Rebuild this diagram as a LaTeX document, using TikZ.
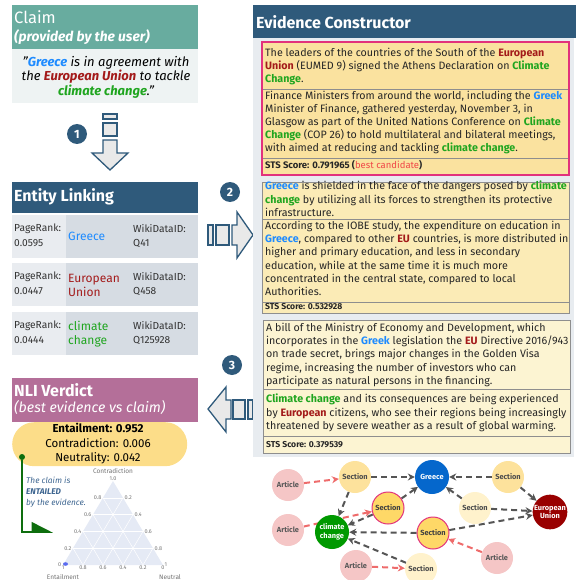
\documentclass[tikz,border=0pt]{standalone}
\usepackage{fontspec}
\setmainfont{Fira Sans}
\usetikzlibrary{arrows.meta,backgrounds,calc,positioning}

\definecolor{claimteal}{HTML}{68AC9F}
\definecolor{claimbg}{HTML}{EEF3F3}
\definecolor{navy}{HTML}{2F5A7B}
\definecolor{rowlight}{HTML}{E9ECF0}
\definecolor{rowdark}{HTML}{D6DCE3}
\definecolor{mauve}{HTML}{B46F99}
\definecolor{pill}{HTML}{FCDD89}
\definecolor{panelbg}{HTML}{E8ECF0}
\definecolor{bestfill}{HTML}{FAE29F}
\definecolor{midfill}{HTML}{FBEBB6}
\definecolor{lowfill}{HTML}{FCF4D2}
\definecolor{bestline}{HTML}{E2327C}
\definecolor{boxline}{HTML}{8E8E8E}
\definecolor{entblue}{HTML}{1E8BFF}
\definecolor{entred}{HTML}{A31A1A}
\definecolor{entgreen}{HTML}{1FA51F}
\definecolor{candred}{HTML}{F04848}
\definecolor{arrowgray}{HTML}{E9E9E9}
\definecolor{verdictgreen}{HTML}{0E6E0E}
\definecolor{notetext}{HTML}{3D6590}
\definecolor{ternfill}{HTML}{E5EAF5}
\definecolor{ternpt}{HTML}{5A6BF0}
\definecolor{kgblue}{HTML}{0567CC}
\definecolor{kgred}{HTML}{990000}
\definecolor{kggreen}{HTML}{009900}
\definecolor{kgart}{HTML}{F5C6C6}
\definecolor{kgsec}{HTML}{FDE29C}
\definecolor{kgsecb}{HTML}{FED867}
\definecolor{kgsecl}{HTML}{FFF2CC}
\definecolor{kgedge}{HTML}{555555}
\definecolor{kgcite}{HTML}{EE6B6B}

\newcommand{\fsz}[2]{\fontsize{#1}{#2}\selectfont}
\newcommand{\tgr}[1]{\textbf{\color{entblue}#1}}
\newcommand{\teu}[1]{\textbf{\color{entred}#1}}
\newcommand{\tcc}[1]{\textbf{\color{entgreen}#1}}

\tikzset{
  headtxt/.style={anchor=west, inner sep=0pt, text=white},
  rowtxt/.style={anchor=west, inner sep=0pt, text=black!80, font=\fsz{10.2}{11}},
  entname/.style={anchor=west, inner sep=0pt, align=left, font=\fsz{12}{14}},
  numdot/.style={circle, fill=navy, text=white, minimum size=20pt, inner sep=0pt, font=\bfseries\fsz{12}{12}},
  blockarrow/.style={draw=navy, fill=arrowgray, line width=1.3pt},
  evid/.style={anchor=north west, inner sep=0pt, align=left, text=black!85, font=\fsz{10.7}{13.2}},
  sts/.style={anchor=west, inner sep=0pt, text=black!85, font=\bfseries\fsz{8.6}{8.6}},
  tern/.style={inner sep=0.5pt, text=black!55, font=\fsz{5.5}{6}},
  kg/.style={circle, minimum size=32pt, inner sep=0pt, align=center, font=\bfseries\fsz{7.4}{8.5}},
  art/.style={kg, fill=kgart, text=black!65},
  sec/.style={kg, fill=kgsec, text=black!70},
  seclight/.style={kg, fill=kgsecl, text=black!70},
  secbest/.style={kg, fill=kgsecb, draw=bestline, line width=1pt, text=black!75},
  ent/.style={kg, minimum size=34pt, text=white},
  link/.style={draw=kgedge, line width=2pt, dash pattern=on 6pt off 4pt, -{Stealth[length=7pt,width=7pt]}},
  cite/.style={link, draw=kgcite},
}

\begin{document}
\begin{tikzpicture}[x=1pt,y=-1pt]
\useasboundingbox (0,0) rectangle (576,580);

% claim
\fill[claimteal] (12,5) rectangle (198,49);
\node[headtxt, font=\fsz{16.5}{16.5}] (claimtitle) at (14,17) {Claim};
\node[headtxt, font=\bfseries\itshape\fsz{13.8}{13.8}] (claimsub) at (14,37) {(provided by the user)};
\fill[claimbg] (12,49) rectangle (198,103);
\node[inner sep=0pt, align=center, font=\itshape\fsz{13}{14.5}] (claimtext) at (106,77)
  {"\tgr{Greece} is in agreement with\\the \teu{European Union} to tackle\\\tcc{climate change}."};

% step 1
\draw[blockarrow] (103,114) rectangle (117,119);
\draw[blockarrow] (103,123) rectangle (117,136);
\draw[blockarrow] (103,140) -- (117,140) -- (117,153) -- (128,153) -- (110,170) -- (92,153) -- (103,153) -- cycle;
\node[numdot] (one) at (77,134) {1};

% entity linking
\fill[navy] (12,182) rectangle (198,213);
\node[headtxt, font=\bfseries\fsz{16}{16}] (eltitle) at (14,197) {Entity Linking};
\foreach \ytop/\pr/\qid [count=\i] in {215/0.0595/Q41, 263/0.0447/Q458, 312/0.0444/Q125928}{
  \fill[rowlight] (12,\ytop) rectangle +(54,43);
  \fill[rowdark] (66,\ytop) rectangle +(132,43);
  \node[rowtxt] (pr\i) at (14,\ytop+14) {PageRank:};
  \node[rowtxt] (prv\i) at (14,\ytop+28) {\pr};
  \node[rowtxt] (wd\i) at (133,\ytop+14) {WikiDataID:};
  \node[rowtxt] (wdv\i) at (133,\ytop+28) {\qid};
}
\node[entname, text=entblue] (ent1) at (68,236) {Greece};
\node[entname, text=entred] (ent2) at (68,285) {European\\Union};
\node[entname, text=entgreen] (ent3) at (68,334) {climate\\change};

% step 2
\draw[blockarrow] (208,225) rectangle (213,245);
\draw[blockarrow] (216,225) rectangle (229,245);
\draw[blockarrow] (232,225) -- (237,225) -- (237,212) -- (253,235) -- (237,258) -- (237,245) -- (232,245) -- cycle;
\node[numdot] (two) at (230,192) {2};

% step 3
\draw[blockarrow] (248,400) rectangle (253,419);
\draw[blockarrow] (233,400) rectangle (245,419);
\draw[blockarrow] (231,400) -- (226,400) -- (226,387) -- (208,409) -- (226,432) -- (226,419) -- (231,419) -- cycle;
\node[numdot] (three) at (232,365) {3};

% nli verdict
\fill[mauve] (12,378) rectangle (198,422);
\node[headtxt, font=\bfseries\fsz{16}{16}] (nlititle) at (14,390) {NLI Verdict};
\node[headtxt, font=\itshape\fsz{14.2}{14.2}] (nlisub) at (14,408) {(best evidence vs claim)};
\node[fill=pill, rounded corners=22pt, minimum width=175pt, minimum height=44pt, anchor=north west] (pillbox) at (12,422) {};
\node[inner sep=0pt, align=center, font=\fsz{11.5}{14.5}] (scores) at (98,444)
  {\textbf{Entailment: 0.952}\\Contradiction: 0.006\\Neutrality: 0.042};
\node[circle, fill=verdictgreen, minimum size=6pt, inner sep=0pt] (vdot) at (22,457) {};
\coordinate (vend) at (53,532);
\draw[verdictgreen, line width=1.5pt, -{Triangle[harpoon, length=20pt, width=20pt]}] (vdot) |- (vend);
\node[anchor=north west, inner sep=0pt, align=left, text=notetext, font=\itshape\fsz{8.3}{10.7}] (note) at (26,477)
  {The claim is\\\textbf{ENTAILED}\\by the evidence.};

% ternary plot
\coordinate (tA) at (113,481);
\coordinate (tB) at (63,565);
\coordinate (tC) at (163,565);
\fill[ternfill] (tA) -- (tB) -- (tC) -- cycle;
\foreach \t in {0.2,0.4,0.6,0.8}{
  \draw[white, line width=0.5pt] ($(tB)!\t!(tA)$) -- ($(tC)!\t!(tA)$);
  \draw[white, line width=0.5pt] ($(tB)!\t!(tC)$) -- ($(tB)!\t!(tA)$);
  \draw[white, line width=0.5pt] ($(tC)!\t!(tB)$) -- ($(tC)!\t!(tA)$);
}
\foreach \t/\lab [count=\i] in {0/0, 0.2/0.2, 0.4/0.4, 0.6/0.6, 0.8/0.8}{
  \node[tern, left=1pt] (lt\i) at ($(tB)!\t!(tA)$) {\lab};
  \node[tern, right=1pt] (rt\i) at ($(tA)!\t+0.2!(tC)$) {\ifnum\i=5 1\else 0.\the\numexpr2*\i\relax\fi};
  \node[tern, below=0.5pt] (bt\i) at ($(tB)!\t!(tC)$) {\ifnum\i=1 1\else 0.\the\numexpr10-2*\i+2\relax\fi};
}
\node[tern, above=0pt] (topt) at (tA) {1.0};
\node[tern, below=0.5pt] (bt6) at (tC) {0};
\node[tern, font=\fsz{6.5}{7}] (lcon) at (113,471) {Contradiction};
\node[tern, font=\fsz{6.5}{7}] (lent) at (63,577) {Entailment};
\node[tern, font=\fsz{6.5}{7}] (lneu) at (170,577) {Neutral};
\fill[ternpt] (65.5,564) ellipse (2.5 and 1.8);

% evidence constructor
\fill[panelbg] (253,38) rectangle (574,457);
\fill[navy] (253,5) rectangle (576,38);
\node[headtxt, font=\bfseries\fsz{16}{16}] (evtitle) at (256,22) {Evidence Constructor};

\draw[bestline, fill=bestfill, line width=1.2pt] (262,42) rectangle (569,175);
\draw[boxline, line width=0.8pt] (263,89) -- (568,89) (263,158) -- (568,158);
\node[evid] (ev1a) at (265,47.5) {The leaders of the countries of the South of the \teu{European}\\\teu{Union} (EUMED 9) signed the Athens Declaration on \tcc{Climate}\\\tcc{Change}.};
\node[evid] (ev1b) at (265,90.5) {Finance Ministers from around the world, including the \tgr{Greek}\\Minister of Finance, gathered yesterday, November 3, in\\Glasgow as part of the United Nations Conference on \tcc{Climate}\\\tcc{Change} (COP 26) to hold multilateral and bilateral meetings,\\with aimed at reducing and tackling \tcc{climate change}.};
\node[sts, font=\bfseries\fsz{9.5}{9.5}] (sts1) at (265,165) {STS Score: 0.791965 ({\mdseries\color{candred}best candidate})};

\draw[boxline, fill=midfill, line width=0.8pt] (262,182) rectangle (569,313);
\draw[boxline, line width=0.8pt] (262,219) -- (569,219) (262,302) -- (569,302);
\node[evid] (ev2a) at (265,181) {\tgr{Greece} is shielded in the face of the dangers posed by \tcc{climate}\\\tcc{change} by utilizing all its forces to strengthen its protective\\infrastructure.};
\node[evid] (ev2b) at (265,221) {According to the IOBE study, the expenditure on education in\\\tgr{Greece}, compared to other \teu{EU} countries, is more distributed in\\higher and primary education, and less in secondary\\education, while at the same time it is much more\\concentrated in the central state, compared to local\\Authorities.};
\node[sts] (sts2) at (265,307) {STS Score: 0.532928};

\draw[boxline, fill=lowfill, line width=0.8pt] (263,320) rectangle (570,453);
\draw[boxline, line width=0.8pt] (263,389) -- (570,389) (263,436) -- (570,436);
\node[evid] (ev3a) at (266,323) {A bill of the Ministry of Economy and Development, which\\incorporates in the \tgr{Greek} legislation the \teu{EU} Directive 2016/943\\on trade secret, brings major changes in the Golden Visa\\regime, increasing the number of investors who can\\participate as natural persons in the financing.};
\node[evid] (ev3b) at (266,394) {\tcc{Climate change} and its consequences are being experienced\\by \teu{European} citizens, who see their regions being increasingly\\threatened by severe weather as a result of global warming.};
\node[sts] (sts3) at (266,445) {STS Score: 0.379539};

% knowledge graph
\node[art] (art1) at (288,485) {Article};
\node[sec] (sec1) at (355,477) {Section};
\node[ent, fill=kgblue] (greece) at (432,477) {Greece};
\node[sec] (sec2) at (508,477) {Section};
\node[ent, fill=kgred] (eu) at (550,512) {European\\Union};
\node[secbest] (secb1) at (388,508) {Section};
\node[seclight] (sec3) at (475,508) {Section};
\node[art] (art2) at (288,530) {Article};
\node[ent, fill=kggreen] (cc) at (332,532) {climate\\change};
\node[secbest] (secb2) at (433,533) {Section};
\node[art] (art3) at (356,566) {Article};
\node[seclight] (sec4) at (421,569) {Section};
\node[art] (art4) at (497,558) {Article};
\begin{scope}[on background layer]
  \draw[cite] (art1) -- (sec1);
  \draw[link] (sec1) -- (greece);
  \draw[link] (sec2) -- (greece);
  \draw[link] (sec2) -- (eu);
  \draw[link] (sec1) -- (cc);
  \draw[link] (secb1) -- (greece);
  \draw[link] (secb1) -- (cc);
  \draw[cite] (art2) -- (secb1);
  \draw[link] (sec3) -- (greece);
  \draw[link] (sec3) -- (eu);
  \draw[link] (secb2) -- (cc);
  \draw[link] (secb2) -- (eu);
  \draw[cite] (art4) -- (secb2);
  \draw[link] (sec4) -- (cc);
  \draw[cite] (art3) -- (sec4);
\end{scope}
\end{tikzpicture}
\end{document}
